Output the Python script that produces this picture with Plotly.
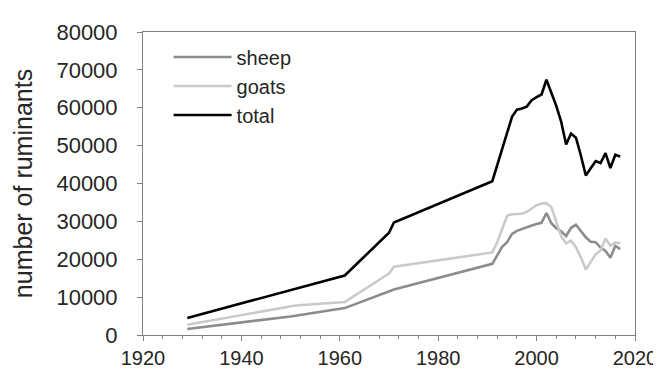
import plotly.graph_objects as go

# ---- data ----
sheep_years = [1929, 1950, 1961, 1971, 1991, 1992, 1993, 1994, 1995, 1996, 1997, 1998, 1999,
               2000, 2001, 2002, 2003, 2004, 2005, 2006, 2007, 2008, 2009, 2010, 2011,
               2012, 2013, 2014, 2015, 2016, 2017]
sheep = [1600, 4900, 7100, 12000, 18800, 21000, 23300, 24500, 26700, 27500, 28000, 28600, 28900,
         29300, 29600, 32200, 29500, 28200, 27400, 26100, 28300, 29100, 27400, 25800, 24600,
         24500, 23100, 22200, 20400, 23500, 22700]

goats_years = [1929, 1951, 1961, 1970, 1971, 1991, 1992, 1993, 1994, 1995, 1996, 1997, 1998,
               1999, 2000, 2001, 2002, 2003, 2004, 2005, 2006, 2007, 2008, 2009, 2010,
               2011, 2012, 2013, 2014, 2015, 2016, 2017]
goats = [2700, 7800, 8700, 16200, 18000, 21800, 24500, 28000, 31500, 31900, 32000, 32000, 32500,
         33300, 34300, 34700, 34800, 33800, 30000, 26000, 24200, 24900, 23200, 20500, 17300,
         19300, 21300, 22300, 25500, 23600, 24400, 24300]

total_years = [1929, 1961, 1970, 1971, 1991, 1995, 1996, 1997, 1998, 1999, 2000, 2001, 2002,
               2003, 2004, 2005, 2006, 2007, 2008, 2009, 2010, 2011, 2012, 2013, 2014,
               2015, 2016, 2017]
total = [4500, 15700, 27000, 29700, 40600, 57600, 59500, 59800, 60300, 62000, 62800, 63500, 67400,
         64000, 60500, 56300, 50300, 53200, 52100, 47400, 42100, 44000, 45900, 45400, 48000,
         44100, 47600, 47100]

series_names = ["sheep", "goats", "total"]
series_colors = ["#8c8c8c", "#cacaca", "#000000"]

x_ticks = [1920, 1940, 1960, 1980, 2000, 2020]
y_ticks = [0, 10000, 20000, 30000, 40000, 50000, 60000, 70000, 80000]

FONT = "Liberation Sans, Arial, sans-serif"
TXT = "#262626"
AX = "#808080"

fig = go.Figure()
for name, xs, ys, col in zip(series_names,
                             [sheep_years, goats_years, total_years],
                             [sheep, goats, total],
                             series_colors):
    fig.add_trace(go.Scatter(x=xs, y=ys, mode="lines", name=name,
                             line=dict(color=col, width=2.6)))

fig.update_layout(
    width=661, height=373,
    margin=dict(l=135, r=24, t=24, b=36),
    paper_bgcolor="white", plot_bgcolor="white",
    font=dict(family=FONT, size=20, color=TXT),
    legend=dict(x=0.052, y=0.982, xanchor="left", yanchor="top",
                bgcolor="rgba(0,0,0,0)", itemwidth=58,
                font=dict(size=20, color=TXT), tracegroupgap=0),
    showlegend=True,
)
fig.update_xaxes(
    range=[1920, 2020], tickvals=x_ticks, ticktext=[str(v) for v in x_ticks],
    showgrid=False, zeroline=False,
    showline=True, linecolor=AX, linewidth=1, mirror=True,
    ticks="outside", ticklen=5, tickcolor=AX,
    minor=dict(dtick=4, tick0=1920, ticks="outside", ticklen=3, tickcolor=AX, showgrid=False),
    tickfont=dict(size=20, color=TXT),
)
fig.update_yaxes(
    range=[0, 80000], tickvals=y_ticks, ticktext=[str(v) for v in y_ticks],
    showgrid=False, zeroline=False,
    showline=True, linecolor=AX, linewidth=1, mirror=True,
    ticks="outside", ticklen=5, tickcolor=AX,
    tickfont=dict(size=22, color=TXT), ticklabelstandoff=15,
    title=dict(text="number of ruminants", font=dict(size=25, color=TXT), standoff=16),
)

fig.write_html("out.html")
